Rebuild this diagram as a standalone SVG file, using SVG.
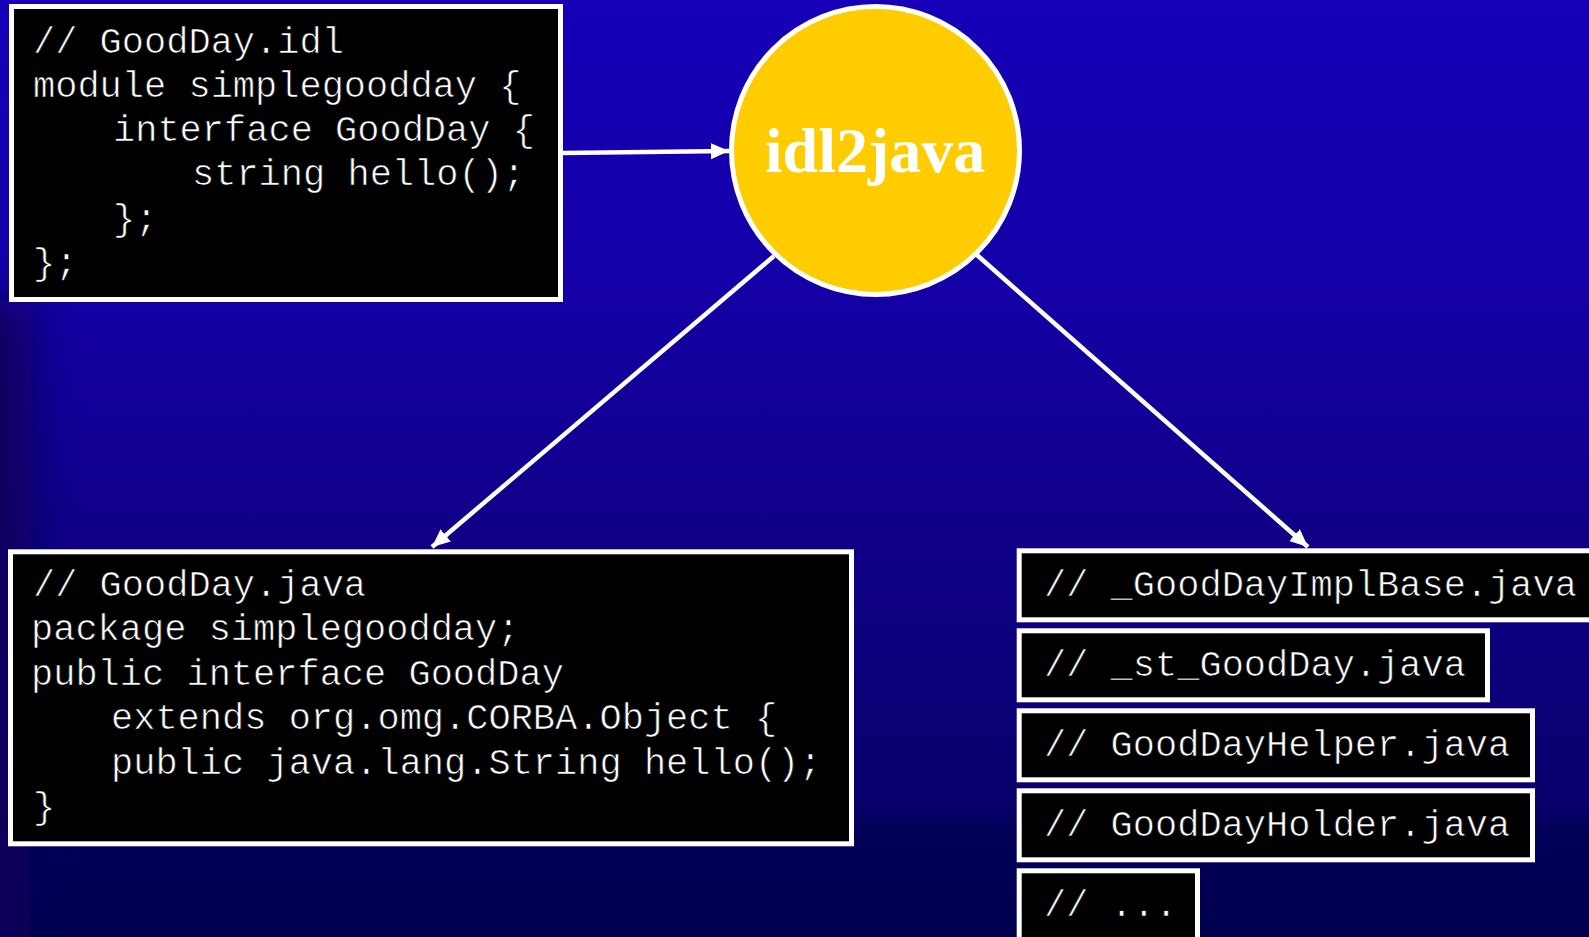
<svg xmlns="http://www.w3.org/2000/svg" width="1589" height="937" viewBox="0 0 1589 937">
  <defs>
    <linearGradient id="bg" x1="0" y1="0" x2="0" y2="1">
      <stop offset="0" stop-color="#1600B8"/>
      <stop offset="0.29" stop-color="#1400A8"/>
      <stop offset="0.58" stop-color="#0F0086"/>
      <stop offset="0.86" stop-color="#09006C"/>
      <stop offset="0.885" stop-color="#020058"/>
      <stop offset="1" stop-color="#00004F"/>
    </linearGradient>
    <filter id="soft" x="-2" y="-1" width="5" height="3">
      <feGaussianBlur stdDeviation="24"/>
    </filter>
    <marker id="head" markerUnits="userSpaceOnUse" markerWidth="20" markerHeight="18" viewBox="0 0 20 18" refX="18" refY="9" orient="auto">
      <path d="M0,1 L18,9 L0,17 Z" fill="#FFFFFF"/>
    </marker>
    <style>
      .box { fill: #000000; stroke: #FFFFFF; stroke-width: 5; }
      .code { font-family: "Liberation Mono", "Courier New", monospace; font-size: 37px; fill: #FFFFFF; white-space: pre; stroke: #000000; stroke-width: 0.7; }
      .edge { stroke: #FFFFFF; stroke-width: 4.5; fill: none; marker-end: url(#head); }
      .tool { fill: #FFCC00; stroke: #FFFFFF; stroke-width: 5; }
      .toolLabel { font-family: "Liberation Serif", "Times New Roman", serif; font-weight: bold; font-size: 64px; fill: #FFFFFF; text-anchor: middle; }
    </style>
  </defs>

  <!-- backdrop -->
  <rect x="0" y="0" width="1589" height="937" fill="url(#bg)"/>
  <rect x="-60" y="300" width="90" height="720" fill="#07005A" filter="url(#soft)"/>

  <!-- connectors -->
  <g id="connectors">
    <line class="edge" x1="562" y1="153" x2="729" y2="151"/>
    <line class="edge" x1="774" y1="256" x2="432" y2="547"/>
    <line class="edge" x1="977" y1="255" x2="1308" y2="547"/>
  </g>

  <!-- IDL source -->
  <g id="idl-source">
    <rect class="box" x="11.5" y="6.5" width="549" height="293"/>
    <text class="code" x="33" y="52.5">// GoodDay.idl</text>
    <text class="code" x="33" y="96.8">module simplegoodday {</text>
    <text class="code" x="113" y="141">interface GoodDay {</text>
    <text class="code" x="192" y="185.3">string hello();</text>
    <text class="code" x="113" y="229.6">};</text>
    <text class="code" x="33" y="274">};</text>
  </g>

  <!-- compiler -->
  <g id="idl2java">
    <circle class="tool" cx="875.5" cy="150.5" r="144"/>
    <text class="toolLabel" x="875" y="172">idl2java</text>
  </g>

  <!-- generated interface -->
  <g id="java-interface">
    <rect class="box" x="10.5" y="551.8" width="841" height="292"/>
    <text class="code" x="33" y="596">// GoodDay.java</text>
    <text class="code" x="31" y="640.4">package simplegoodday;</text>
    <text class="code" x="31" y="684.8">public interface GoodDay</text>
    <text class="code" x="111" y="729.2">extends org.omg.CORBA.Object {</text>
    <text class="code" x="111" y="773.6">public java.lang.String hello();</text>
    <text class="code" x="33" y="818">}</text>
  </g>

  <!-- other generated files -->
  <g id="impl-base">
    <rect class="box" x="1019.2" y="550.8" width="600" height="69"/>
    <text class="code" x="1044" y="596">// _GoodDayImplBase.java</text>
  </g>
  <g id="stub">
    <rect class="box" x="1019.2" y="630.8" width="468.3" height="69"/>
    <text class="code" x="1044" y="676">// _st_GoodDay.java</text>
  </g>
  <g id="helper">
    <rect class="box" x="1019.2" y="710.8" width="513.3" height="69"/>
    <text class="code" x="1044" y="756">// GoodDayHelper.java</text>
  </g>
  <g id="holder">
    <rect class="box" x="1019.2" y="790.8" width="513.3" height="69"/>
    <text class="code" x="1044" y="836">// GoodDayHolder.java</text>
  </g>
  <g id="more">
    <rect class="box" x="1019.2" y="870.8" width="178.3" height="100"/>
    <text class="code" x="1044" y="916">// ...</text>
  </g>
</svg>
